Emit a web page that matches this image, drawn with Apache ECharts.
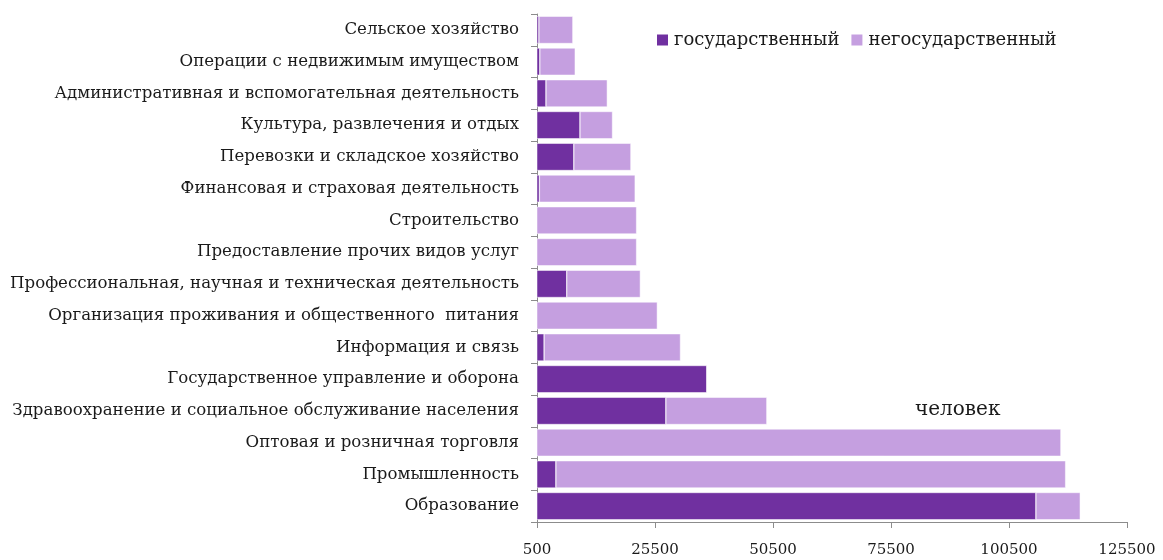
<!DOCTYPE html>
<html>
<head>
<meta charset="utf-8">
<script src="https://cdn.jsdelivr.net/npm/echarts@6/dist/echarts.min.js"></script>
<style>html,body{margin:0;padding:0;background:#fff}#c{width:1163px;height:560px}</style>
</head>
<body>
<div id="c"></div>
<script>
var categories = [
  "Сельское хозяйство",
  "Операции с недвижимым имуществом",
  "Административная и вспомогательная деятельность",
  "Культура, развлечения и отдых",
  "Перевозки и складское хозяйство",
  "Финансовая и страховая деятельность",
  "Строительство",
  "Предоставление прочих видов услуг",
  "Профессиональная, научная и техническая деятельность",
  "Организация проживания и общественного  питания",
  "Информация и связь",
  "Государственное управление и оборона",
  "Здравоохранение и социальное обслуживание населения",
  "Оптовая и розничная торговля",
  "Промышленность",
  "Образование"
];
var govValues =    [900, 1100, 2400, 9600, 8300, 1000, 0, 0, 6800, 0, 2000, 36500, 27800, 0, 4500, 106200];
var nonGovValues = [7200, 7500, 13000, 6900, 12100, 20300, 21600, 21600, 15600, 26000, 28900, 0, 21400, 111500, 108000, 9400];
var xTicks = [500, 25500, 50500, 75500, 100500, 125500];
var seriesNames = ["государственный", "негосударственный"];
var unitLabel = "человек";

var FONT = "DejaVu Serif";
var chart = echarts.init(document.getElementById('c'));
chart.setOption({
  backgroundColor: '#fff',
  animation: false,
  textStyle: {fontFamily: FONT},
  grid: {left: 537, right: 36, top: 14, bottom: 38, containLabel: false},
  legend: {
    top: 26, left: 650,
    itemWidth: 13, itemHeight: 13, itemGap: 10,
    icon: 'rect',
    textStyle: {fontFamily: FONT, fontSize: 18, color: '#1a1a1a'},
    data: seriesNames
  },
  xAxis: {
    type: 'value',
    min: xTicks[0], max: xTicks[xTicks.length - 1],
    axisLine: {show: true, lineStyle: {color: '#8c8c8c', width: 1}},
    axisTick: {show: true, length: 6, customValues: xTicks, lineStyle: {color: '#8c8c8c'}},
    axisLabel: {customValues: xTicks, formatter: function (v) { return String(v); },
      fontFamily: FONT, fontSize: 15, color: '#1a1a1a', margin: 21},
    splitLine: {show: false}
  },
  yAxis: {
    type: 'category',
    inverse: true,
    data: categories,
    axisLine: {show: true, lineStyle: {color: '#8c8c8c', width: 1}},
    axisTick: {show: true, length: 6, lineStyle: {color: '#8c8c8c'}},
    axisLabel: {fontFamily: FONT, fontSize: 16.6, color: '#1a1a1a', margin: 18}
  },
  graphic: [{
    type: 'text', left: 915, top: 400,
    style: {text: unitLabel, font: '20px "' + FONT + '"', fill: '#1a1a1a'}
  }],
  series: [{
    name: seriesNames[0], type: 'bar', stack: 'total',
    data: govValues, barCategoryGap: '14%',
    itemStyle: {color: '#7030A0', borderColor: '#fff', borderWidth: 0.5}
  }, {
    name: seriesNames[1], type: 'bar', stack: 'total',
    data: nonGovValues, barCategoryGap: '14%',
    itemStyle: {color: '#C59FE0', borderColor: '#fff', borderWidth: 0.5}
  }]
});
</script>
</body>
</html>
